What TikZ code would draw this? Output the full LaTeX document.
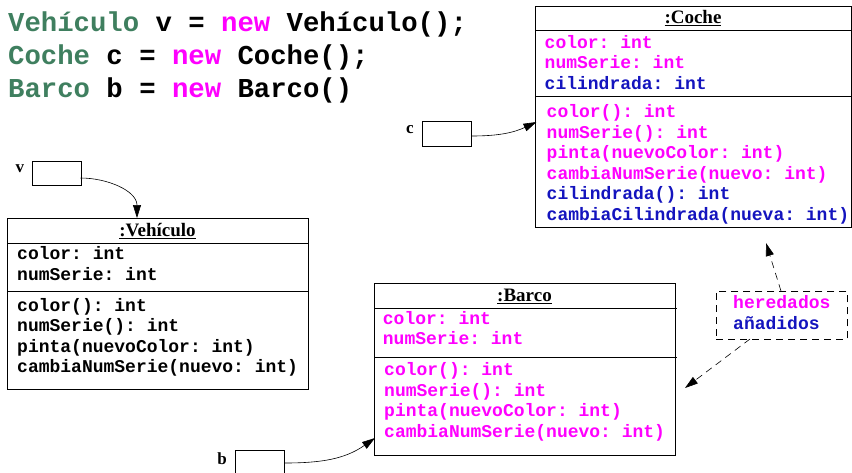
\documentclass[tikz,border=0pt]{standalone}
\usepackage{fontspec}
\setmainfont{Liberation Serif}
\setmonofont{Liberation Mono}
\usetikzlibrary{arrows.meta}

\definecolor{typegreen}{RGB}{63,127,95}
\definecolor{inherited}{RGB}{255,0,255}
\definecolor{added}{RGB}{20,20,190}

\tikzset{
  code/.style={font=\ttfamily\bfseries\fontsize{27.3}{33}\selectfont, anchor=base west, inner sep=0pt},
  member/.style={font=\ttfamily\bfseries\fontsize{18}{20}\selectfont, anchor=base west, inner sep=0pt},
  title/.style={font=\bfseries\fontsize{19}{22}\selectfont, anchor=base, inner sep=0pt},
  varname/.style={font=\bfseries\fontsize{17}{20}\selectfont, anchor=base, inner sep=0pt},
  objbox/.style={draw, line width=0.8pt, anchor=north west, inner sep=0pt},
  refbox/.style={draw, line width=0.8pt, anchor=north west, inner sep=0pt, minimum width=49pt, minimum height=25pt},
  divider/.style={line width=0.8pt},
  ptr/.style={line width=0.6pt, -{Stealth[length=13pt,width=8pt,inset=0pt]}},
  note/.style={line width=0.6pt, dash pattern=on 7pt off 5pt, -{Stealth[length=13pt,width=8pt,inset=0pt]}}
}

\begin{document}
\begin{tikzpicture}[x=1pt,y=-1pt]
\useasboundingbox (0,0) rectangle (852,472);

% declarations
\node[code] (decl1) at (8,31) {\textcolor{typegreen}{Vehículo} v = \textcolor{inherited}{new} Vehículo();};
\node[code] (decl2) at (8,64) {\textcolor{typegreen}{Coche} c = \textcolor{inherited}{new} Coche();};
\node[code] (decl3) at (8,97) {\textcolor{typegreen}{Barco} b = \textcolor{inherited}{new} Barco()};

% object :Coche
\node[objbox, minimum width=316pt, minimum height=221pt] (coche) at (535,6) {};
\draw[divider] (535,30) -- (851,30);
\draw[divider] (535,96) -- (851,96);
\node[title] (cocheT) at (693,23.5) {\underline{:Coche}};
\node[member, text=inherited] (c1) at (544.5,48.3) {color: int};
\node[member, text=inherited] (c2) at (544.5,68.6) {numSerie: int};
\node[member, text=added] (c3) at (544.5,89) {cilindrada: int};
\node[member, text=inherited] (c4) at (546.5,117.5) {color(): int};
\node[member, text=inherited] (c5) at (546.5,138) {numSerie(): int};
\node[member, text=inherited] (c6) at (546.5,158.6) {pinta(nuevoColor: int)};
\node[member, text=inherited] (c7) at (546.5,179.2) {cambiaNumSerie(nuevo: int)};
\node[member, text=added] (c8) at (546.5,199.8) {cilindrada(): int};
\node[member, text=added] (c9) at (546.5,220.4) {cambiaCilindrada(nueva: int)};

% object :Vehículo
\node[objbox, minimum width=301pt, minimum height=171pt] (vehiculo) at (7,218) {};
\draw[divider] (7,243) -- (308,243);
\draw[divider] (7,291) -- (308,291);
\node[title] (vehiculoT) at (157.5,236.5) {\underline{:Vehículo}};
\node[member] (v1) at (17,259.5) {color: int};
\node[member] (v2) at (17,280) {numSerie: int};
\node[member] (v3) at (17,311.5) {color(): int};
\node[member] (v4) at (17,331.8) {numSerie(): int};
\node[member] (v5) at (17,352) {pinta(nuevoColor: int)};
\node[member] (v6) at (17,372.2) {cambiaNumSerie(nuevo: int)};

% object :Barco
\node[objbox, minimum width=301pt, minimum height=172pt] (barco) at (374,283) {};
\draw[divider] (374,308) -- (677,308);
\draw[divider] (374,357) -- (677,357);
\node[title] (barcoT) at (524.5,301.5) {\underline{:Barco}};
\node[member, text=inherited] (b1) at (382.7,324.3) {color: int};
\node[member, text=inherited] (b2) at (382.7,344.6) {numSerie: int};
\node[member, text=inherited] (b3) at (384,375.5) {color(): int};
\node[member, text=inherited] (b4) at (384,396) {numSerie(): int};
\node[member, text=inherited] (b5) at (384,416.5) {pinta(nuevoColor: int)};
\node[member, text=inherited] (b6) at (384,437) {cambiaNumSerie(nuevo: int)};

% reference variables
\node[refbox] (cbox) at (422,120.5) {};
\node[varname] (cname) at (410,133) {c};
\node[refbox, minimum height=24pt] (vbox) at (31.5,161) {};
\node[varname] (vname) at (20,172) {v};
\node[refbox, minimum height=28pt] (bbox) at (235,450) {};
\node[varname] (bname) at (222,464) {b};

% references into the objects
\coordinate (cOut) at (471.5,136);
\coordinate (cocheIn) at (536.5,122);
\coordinate (vOut) at (80.5,178);
\coordinate (vehiculoIn) at (137,218);
\coordinate (bOut) at (284.5,463);
\coordinate (barcoIn) at (375,438);
\draw[ptr] (cOut) to[out=0, in=205] (cocheIn);
\draw[ptr] (vOut) to[out=0, in=90] (vehiculoIn);
\draw[ptr] (bOut) to[out=0, in=215] (barcoIn);

% legend
\node[draw, line width=0.8pt, dash pattern=on 7pt off 5pt, anchor=north west, minimum width=131pt, minimum height=48pt, inner sep=0pt] (legend) at (716,291) {};
\node[member, text=inherited] (legH) at (733,308.5) {heredados};
\node[member, text=added] (legA) at (733,329.5) {añadidos};
\coordinate (legUp) at (781,291);
\coordinate (cocheMark) at (766,243);
\coordinate (legDown) at (750,339);
\coordinate (barcoMark) at (685,388);
\draw[note] (legUp) -- (cocheMark);
\draw[note] (legDown) -- (barcoMark);
\end{tikzpicture}
\end{document}
